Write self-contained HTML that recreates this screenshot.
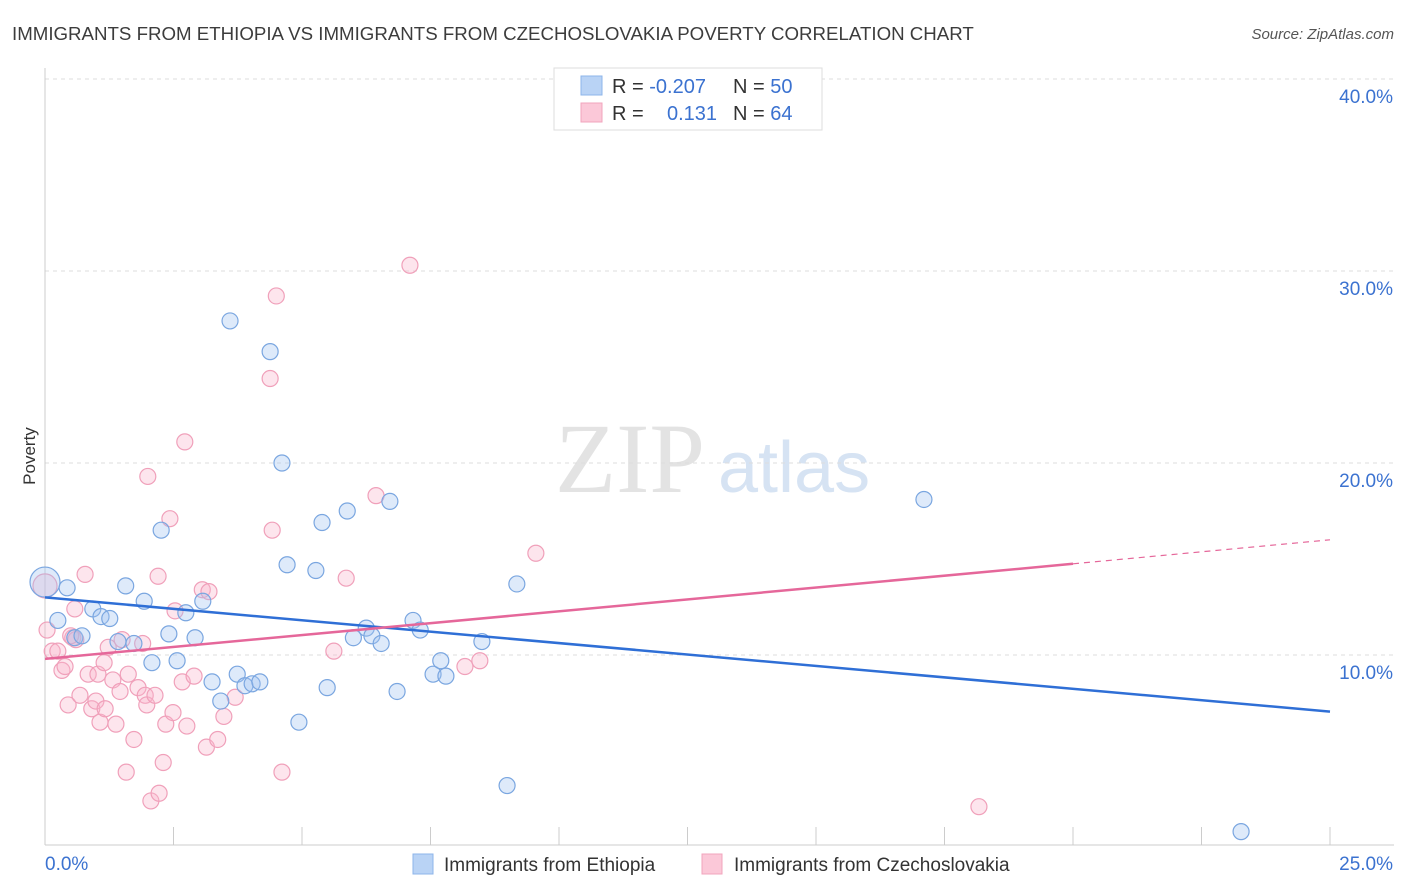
<!DOCTYPE html>
<html><head><meta charset="utf-8"><style>
body{margin:0;background:#fff;font-family:"Liberation Sans",sans-serif;}
svg{display:block}
</style></head><body>
<svg id="chart" width="1406" height="892">
<text x="12" y="40" font-size="18.7" fill="#3c3c3c">IMMIGRANTS FROM ETHIOPIA VS IMMIGRANTS FROM CZECHOSLOVAKIA POVERTY CORRELATION CHART</text>
<text x="1394" y="39" font-size="15" fill="#555" text-anchor="end" font-style="italic">Source: ZipAtlas.com</text>
<text x="35" y="456" font-size="17" fill="#333" transform="rotate(-90 35 456)" text-anchor="middle">Poverty</text>
<text x="555" y="492" font-size="100" fill="#e3e3e3" font-family="Liberation Serif,serif">ZIP</text>
<text x="718" y="492" font-size="72" fill="#d6e3f3">atlas</text>
<g id="grid"></g><g id="pts"></g><g id="lines"></g>
<g>
<rect x="554" y="68" width="268" height="62" fill="#fff" stroke="#ddd"/>
<rect x="581" y="76" width="21" height="19" fill="#b9d3f5" stroke="#8db5ea"/>
<rect x="581" y="103" width="21" height="19" fill="#fbc8d8" stroke="#f2a4bd"/>
<text x="612" y="93" font-size="20" fill="#333">R = <tspan fill="#3b72d0">-0.207</tspan><tspan x="733">N = </tspan><tspan fill="#3b72d0">50</tspan></text>
<text x="612" y="120" font-size="20" fill="#333">R = <tspan x="667" fill="#3b72d0">0.131</tspan><tspan x="733">N = </tspan><tspan fill="#3b72d0">64</tspan></text>
</g>
<g>
<rect x="413" y="854" width="20" height="20" fill="#b9d3f5" stroke="#8db5ea"/>
<text x="444" y="871" font-size="19" fill="#333">Immigrants from Ethiopia</text>
<rect x="702" y="854" width="20" height="20" fill="#fbc8d8" stroke="#f2a4bd"/>
<text x="734" y="871" font-size="19" fill="#333">Immigrants from Czechoslovakia</text>
</g>
</svg>
<script>
const xTickLabels=["0.0%","25.0%"];
const yTicks=[10,20,30,40];
const blueX=[0,0.25,0.43,0.58,0.72,0.93,1.09,1.26,1.42,1.57,1.73,1.93,2.08,2.26,2.41,2.57,2.74,2.92,3.07,3.25,3.42,3.6,3.74,3.89,4.03,4.18,4.38,4.61,4.71,4.94,5.27,5.39,5.49,5.88,6.0,6.25,6.36,6.54,6.71,6.85,7.16,7.3,7.55,7.7,7.8,8.5,8.99,9.18,17.1,23.27];
const blueY=[13.8,11.8,13.5,10.9,11.0,12.4,12.0,11.9,10.7,13.6,10.6,12.8,9.6,16.5,11.1,9.7,12.2,10.9,12.8,8.6,7.6,27.4,9.0,8.4,8.5,8.6,25.8,20.0,14.7,6.5,14.4,16.9,8.3,17.5,10.9,11.4,11.0,10.6,18.0,8.1,11.8,11.3,9.0,9.7,8.9,10.7,3.2,13.7,18.1,0.8];
const pinkX=[0,0.04,0.14,0.25,0.33,0.39,0.45,0.54,0.58,0.68,0.78,0.84,0.91,0.99,1.03,1.07,1.17,1.15,1.23,1.32,1.38,1.46,1.5,1.58,1.62,1.73,1.81,1.95,1.98,2.0,2.06,2.14,2.2,2.22,2.3,2.35,2.43,2.49,2.53,2.67,2.72,2.76,3.06,3.14,3.19,3.36,3.48,4.38,4.42,4.5,4.61,5.62,5.86,6.44,7.1,8.17,8.46,9.55,18.17,0.6,1.9,2.9,3.7,0.5];
const pinkY=[13.6,11.3,10.2,10.2,9.2,9.4,7.4,10.9,12.4,7.9,14.2,9.0,7.2,7.6,9.0,6.5,7.2,9.6,10.4,8.7,6.4,8.1,10.8,3.9,9.0,5.6,8.3,7.9,7.4,19.3,2.4,7.9,14.1,2.8,4.4,6.4,17.1,7.0,12.3,8.6,21.1,6.3,13.4,5.2,13.3,5.6,6.8,24.4,16.5,28.7,3.9,10.2,14.0,18.3,30.3,9.4,9.7,15.3,2.1,10.8,10.6,8.9,7.8,11.0];
const blueTrend=[13.0,7.05], pinkTrend=[9.8,14.75,16.0];
const X=v=>45+v/25*1285, Y=v=>847-v*19.2;
const NS="http://www.w3.org/2000/svg";
function mk(tag,attrs,parent){const e=document.createElementNS(NS,tag);for(const k in attrs)e.setAttribute(k,attrs[k]);parent.appendChild(e);return e;}
const grid=document.getElementById('grid');
yTicks.forEach(t=>{
  const l=mk('line',{x1:45,x2:1394,y1:Y(t),y2:Y(t),stroke:'#ddd','stroke-dasharray':'4 4'},grid);
  
  
  const tx=mk('text',{x:1393,y:Y(t)+24,'font-size':19,fill:'#3b72d0','text-anchor':'end'},grid);
  tx.textContent=t.toFixed(1)+'%';
  
  
});
const ax=mk('line',{x1:45,x2:1394,y1:845,y2:845,stroke:'#ccc'},grid);


const ay=mk('line',{x1:45,x2:45,y1:68,y2:845,stroke:'#ccc'},grid);


for(let i=0;i<=10;i++){const tk=mk('line',{x1:X(i*2.5),x2:X(i*2.5),y1:827,y2:845,stroke:'#ccc'},grid);

}
[[0,'start',45],[1,'end',1393]].forEach(([i,a,x])=>{const t=mk('text',{x:x,y:870,'font-size':19,fill:'#3b72d0','text-anchor':a},grid);t.textContent=xTickLabels[i];

});
const pts=document.getElementById('pts');
pinkX.forEach((x,i)=>{const c=mk('circle',{cx:X(x),cy:Y(pinkY[i]),r:i==0?12:8,fill:'rgba(248,180,203,0.35)',stroke:'#f0a0ba','stroke-width':1.2},pts);

});
blueX.forEach((x,i)=>{const c=mk('circle',{cx:X(x),cy:Y(blueY[i]),r:i==0?15:8,fill:'rgba(160,195,240,0.35)',stroke:'#7aa6e0','stroke-width':1.2},pts);

});
const lines=document.getElementById('lines');
const b=mk('line',{x1:X(0),y1:Y(blueTrend[0]),x2:X(25),y2:Y(blueTrend[1]),stroke:'#2f6fd6','stroke-width':2.5},lines);


const p=mk('line',{x1:X(0),y1:Y(pinkTrend[0]),x2:X(20),y2:Y(pinkTrend[1]),stroke:'#e5679a','stroke-width':2.5},lines);


const pd=mk('line',{x1:X(20),y1:Y(pinkTrend[1]),x2:X(25),y2:Y(pinkTrend[2]),stroke:'#e5679a','stroke-width':1.2,'stroke-dasharray':'6 5'},lines);


</script>
</body></html>
